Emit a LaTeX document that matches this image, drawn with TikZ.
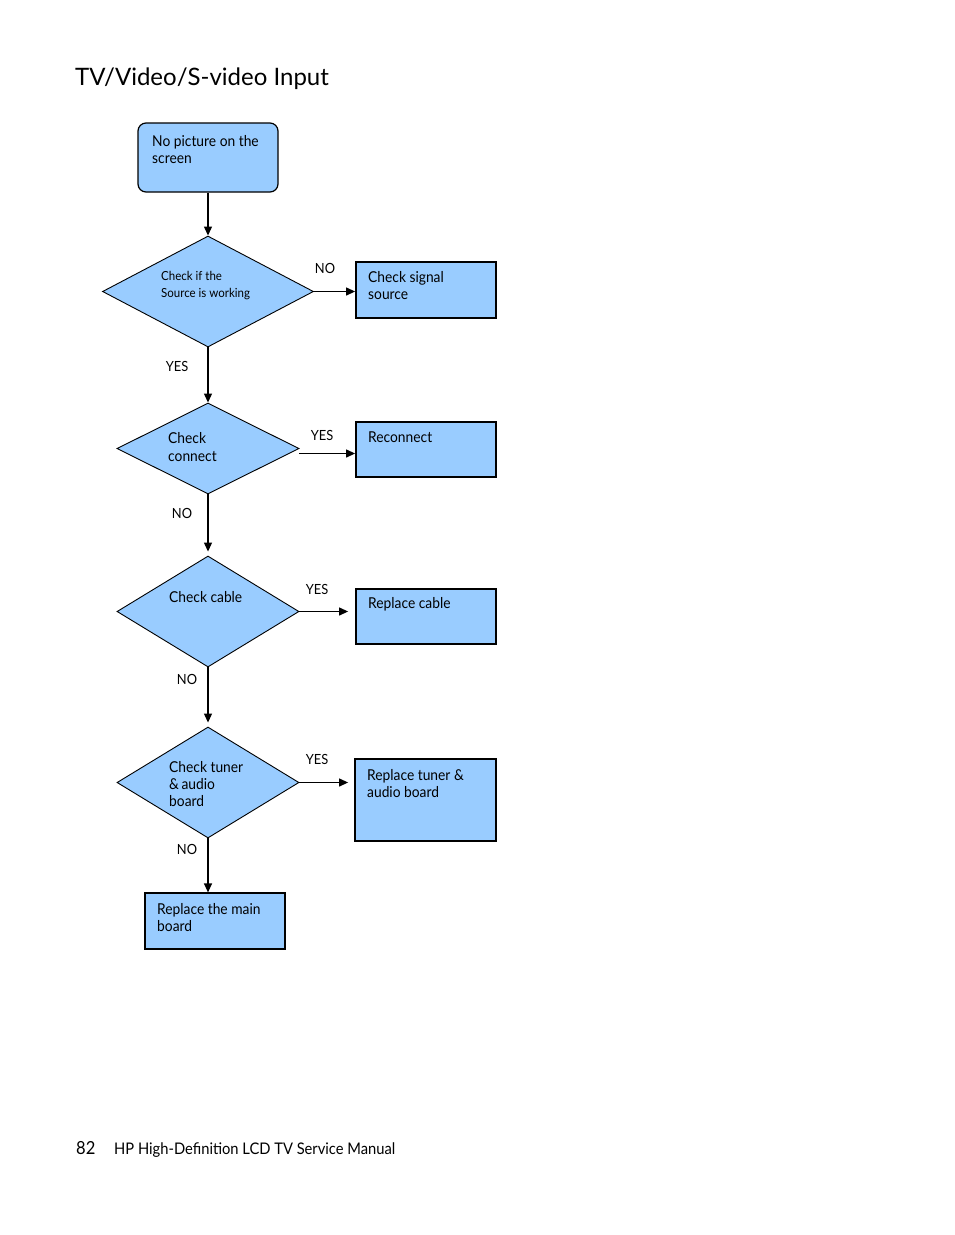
\documentclass[tikz,border=0pt]{standalone}
\usepackage{fontspec}
\setmainfont[FakeStretch=0.92]{Lato}
\newfontfamily\titlefont{Lato}
\usetikzlibrary{shapes.geometric,arrows.meta}
\definecolor{boxblue}{RGB}{153,204,255}
\begin{document}
\begin{tikzpicture}[x=1pt,y=-1pt,
  dia/.style={diamond,draw=black,line width=0.9pt,fill=boxblue,inner sep=0pt},
  sbox/.style={rectangle,draw=black,line width=1.8pt,fill=boxblue,inner sep=0pt},
  tbox/.style={rectangle,draw=black,line width=1.2pt,fill=boxblue,inner sep=0pt},
  txt/.style={anchor=base west,inner sep=0pt,font=\fontsize{15}{17}\selectfont},
  stxt/.style={anchor=base west,inner sep=0pt,font=\fontsize{12.5}{14}\selectfont},
  lbl/.style={inner sep=0pt,font=\fontsize{14}{16}\selectfont},
  conn/.style={line width=1.2pt,-{Triangle[length=9pt,width=8pt]}}]
\useasboundingbox (0,0) rectangle (954,1235);
\fill[white] (0,0) rectangle (954,1235);

\node[anchor=base west,inner sep=0pt,font=\titlefont\fontsize{24}{28}\selectfont] (title) at (75,85) {TV/Video/S-video Input};

% shapes
\node[tbox,rounded corners=8pt,minimum width=140pt,minimum height=69pt] (start) at (208,157.5) {};
\node[dia,minimum width=211pt,minimum height=111pt] (d1) at (208,291.5) {};
\node[dia,minimum width=182pt,minimum height=91pt] (d2) at (208,448.5) {};
\node[dia,minimum width=182pt,minimum height=111pt] (d3) at (208,611.5) {};
\node[dia,minimum width=182pt,minimum height=111pt] (d4) at (208,782.5) {};
\node[sbox,minimum width=140pt,minimum height=56pt] (r1) at (426,290) {};
\node[sbox,minimum width=140pt,minimum height=55pt] (r2) at (426,449.5) {};
\node[sbox,minimum width=140pt,minimum height=55pt] (r3) at (426,616.5) {};
\node[sbox,minimum width=141pt,minimum height=82pt] (r4) at (425.5,800) {};
\node[tbox,minimum width=140pt,minimum height=56pt] (mainb) at (215,921) {};

% texts
\node[txt] (ts1) at (152,146) {No picture on the};
\node[txt] (ts2) at (152,163) {screen};
\node[stxt] (td1a) at (161,280) {Check if the};
\node[stxt] (td1b) at (161,297) {Source is working};
\node[txt] (tr1a) at (368,282) {Check signal};
\node[txt] (tr1b) at (368,299) {source};
\node[txt] (td2a) at (168,443) {Check};
\node[txt] (td2b) at (168,461) {connect};
\node[txt] (tr2) at (368,442) {Reconnect};
\node[txt] (td3) at (169,602) {Check cable};
\node[txt] (tr3) at (368,608) {Replace cable};
\node[txt] (td4a) at (169,772) {Check tuner};
\node[txt] (td4b) at (169,789) {\&\,audio};
\node[txt] (td4c) at (169,806) {board};
\node[txt] (tr4a) at (367,780) {Replace tuner \&};
\node[txt] (tr4b) at (367,797) {audio board};
\node[txt] (tma) at (157,914) {Replace the main};
\node[txt] (tmb) at (157,931) {board};

% connectors
\draw[conn] (start.south) -- (d1.north);
\draw[conn] (d1.east) -- (d1.east -| r1.west);
\draw[conn] (d1.south) -- (d2.north);
\draw[conn] ([yshift=-5pt]d2.east) -- ([yshift=-5pt]d2.east -| r2.west);
\draw[conn,shorten >=4pt] (d2.south) -- (d3.north);
\draw[conn,shorten >=7pt] (d3.east) -- (d3.east -| r3.west);
\draw[conn,shorten >=4pt] (d3.south) -- (d4.north);
\draw[conn,shorten >=6pt] (d4.east) -- (d4.east -| r4.west);
\draw[conn] (d4.south) -- (d4.south |- mainb.north);

% labels
\node[lbl] (l1) at (325,268) {NO};
\node[lbl] (l2) at (177,366) {YES};
\node[lbl] (l3) at (322,435) {YES};
\node[lbl] (l4) at (182,513) {NO};
\node[lbl] (l5) at (317,589) {YES};
\node[lbl] (l6) at (187,679) {NO};
\node[lbl] (l7) at (317,759) {YES};
\node[lbl] (l8) at (187,849) {NO};

% footer
\node[anchor=base west,inner sep=0pt,font=\fontsize{18}{20}\selectfont] (pg) at (76,1154) {82};
\node[anchor=base west,inner sep=0pt,font=\fontsize{16}{18}\selectfont] (ft) at (114,1154) {HP High-Definition LCD TV Service Manual};
\end{tikzpicture}
\end{document}
